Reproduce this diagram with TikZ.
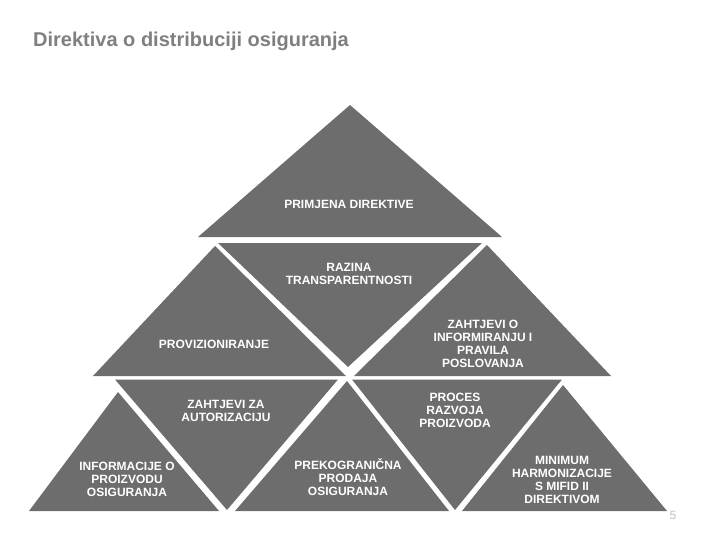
\documentclass[tikz,border=0pt]{standalone}
\usepackage{fontspec}
\setmainfont{Liberation Sans}
\definecolor{tri}{HTML}{6D6D6D}
\definecolor{titlegray}{HTML}{7F7F7F}
\definecolor{pagegray}{HTML}{BFBFBF}
\begin{document}
\begin{tikzpicture}[x=1pt,y=-1pt,
  tribox/.style={fill=tri,draw=none},
  lbl/.style={text=white,font=\fontsize{12}{13}\selectfont\bfseries,align=center,inner sep=0pt}]
\useasboundingbox (0,0) rectangle (720,540);
% top
\fill[tri] (350,105) -- (502,237) -- (198,237) -- cycle;
% row 2
\fill[tri] (215,246) -- (346,376) -- (93,376) -- cycle;
\fill[tri] (218,243) -- (482,243) -- (348,367) -- cycle;
\fill[tri] (487,245) -- (611,376) -- (354,376) -- cycle;
% row 3
\fill[tri] (118,392) -- (219,511) -- (29,511) -- cycle;
\fill[tri] (115,379.5) -- (338,379.5) -- (227,510) -- cycle;
\fill[tri] (347,381) -- (449,511) -- (235,511) -- cycle;
\fill[tri] (352,379.5) -- (562,379.5) -- (455,510) -- cycle;
\fill[tri] (563,385) -- (667,511) -- (462,511) -- cycle;
% texts
\node[anchor=base west,text=titlegray,font=\fontsize{20}{24}\selectfont\bfseries,inner sep=0pt] (title) at (33,47) {Direktiva o distribuciji osiguranja};
\node[lbl] (t1) at (349,204) {PRIMJENA DIREKTIVE};
\node[lbl] (t2) at (349,274) {RAZINA\\TRANSPARENTNOSTI};
\node[lbl] (t3) at (214,344) {PROVIZIONIRANJE};
\node[lbl] (t4) at (483,344) {ZAHTJEVI O\\INFORMIRANJU I\\PRAVILA\\POSLOVANJA};
\node[lbl] (t5) at (226,411) {ZAHTJEVI ZA\\AUTORIZACIJU};
\node[lbl] (t6) at (127,479) {INFORMACIJE O\\PROIZVODU\\OSIGURANJA};
\node[lbl] (t7) at (348,477) {PREKOGRANIČNA\\PRODAJA\\OSIGURANJA};
\node[lbl] (t8) at (455,410) {PROCES\\RAZVOJA\\PROIZVODA};
\node[lbl] (t9) at (562,480) {MINIMUM\\HARMONIZACIJE\\S MIFID II\\DIREKTIVOM};
\node[text=pagegray,font=\fontsize{12}{14}\selectfont,inner sep=0pt] (pg) at (673,515) {5};
\end{tikzpicture}
\end{document}
